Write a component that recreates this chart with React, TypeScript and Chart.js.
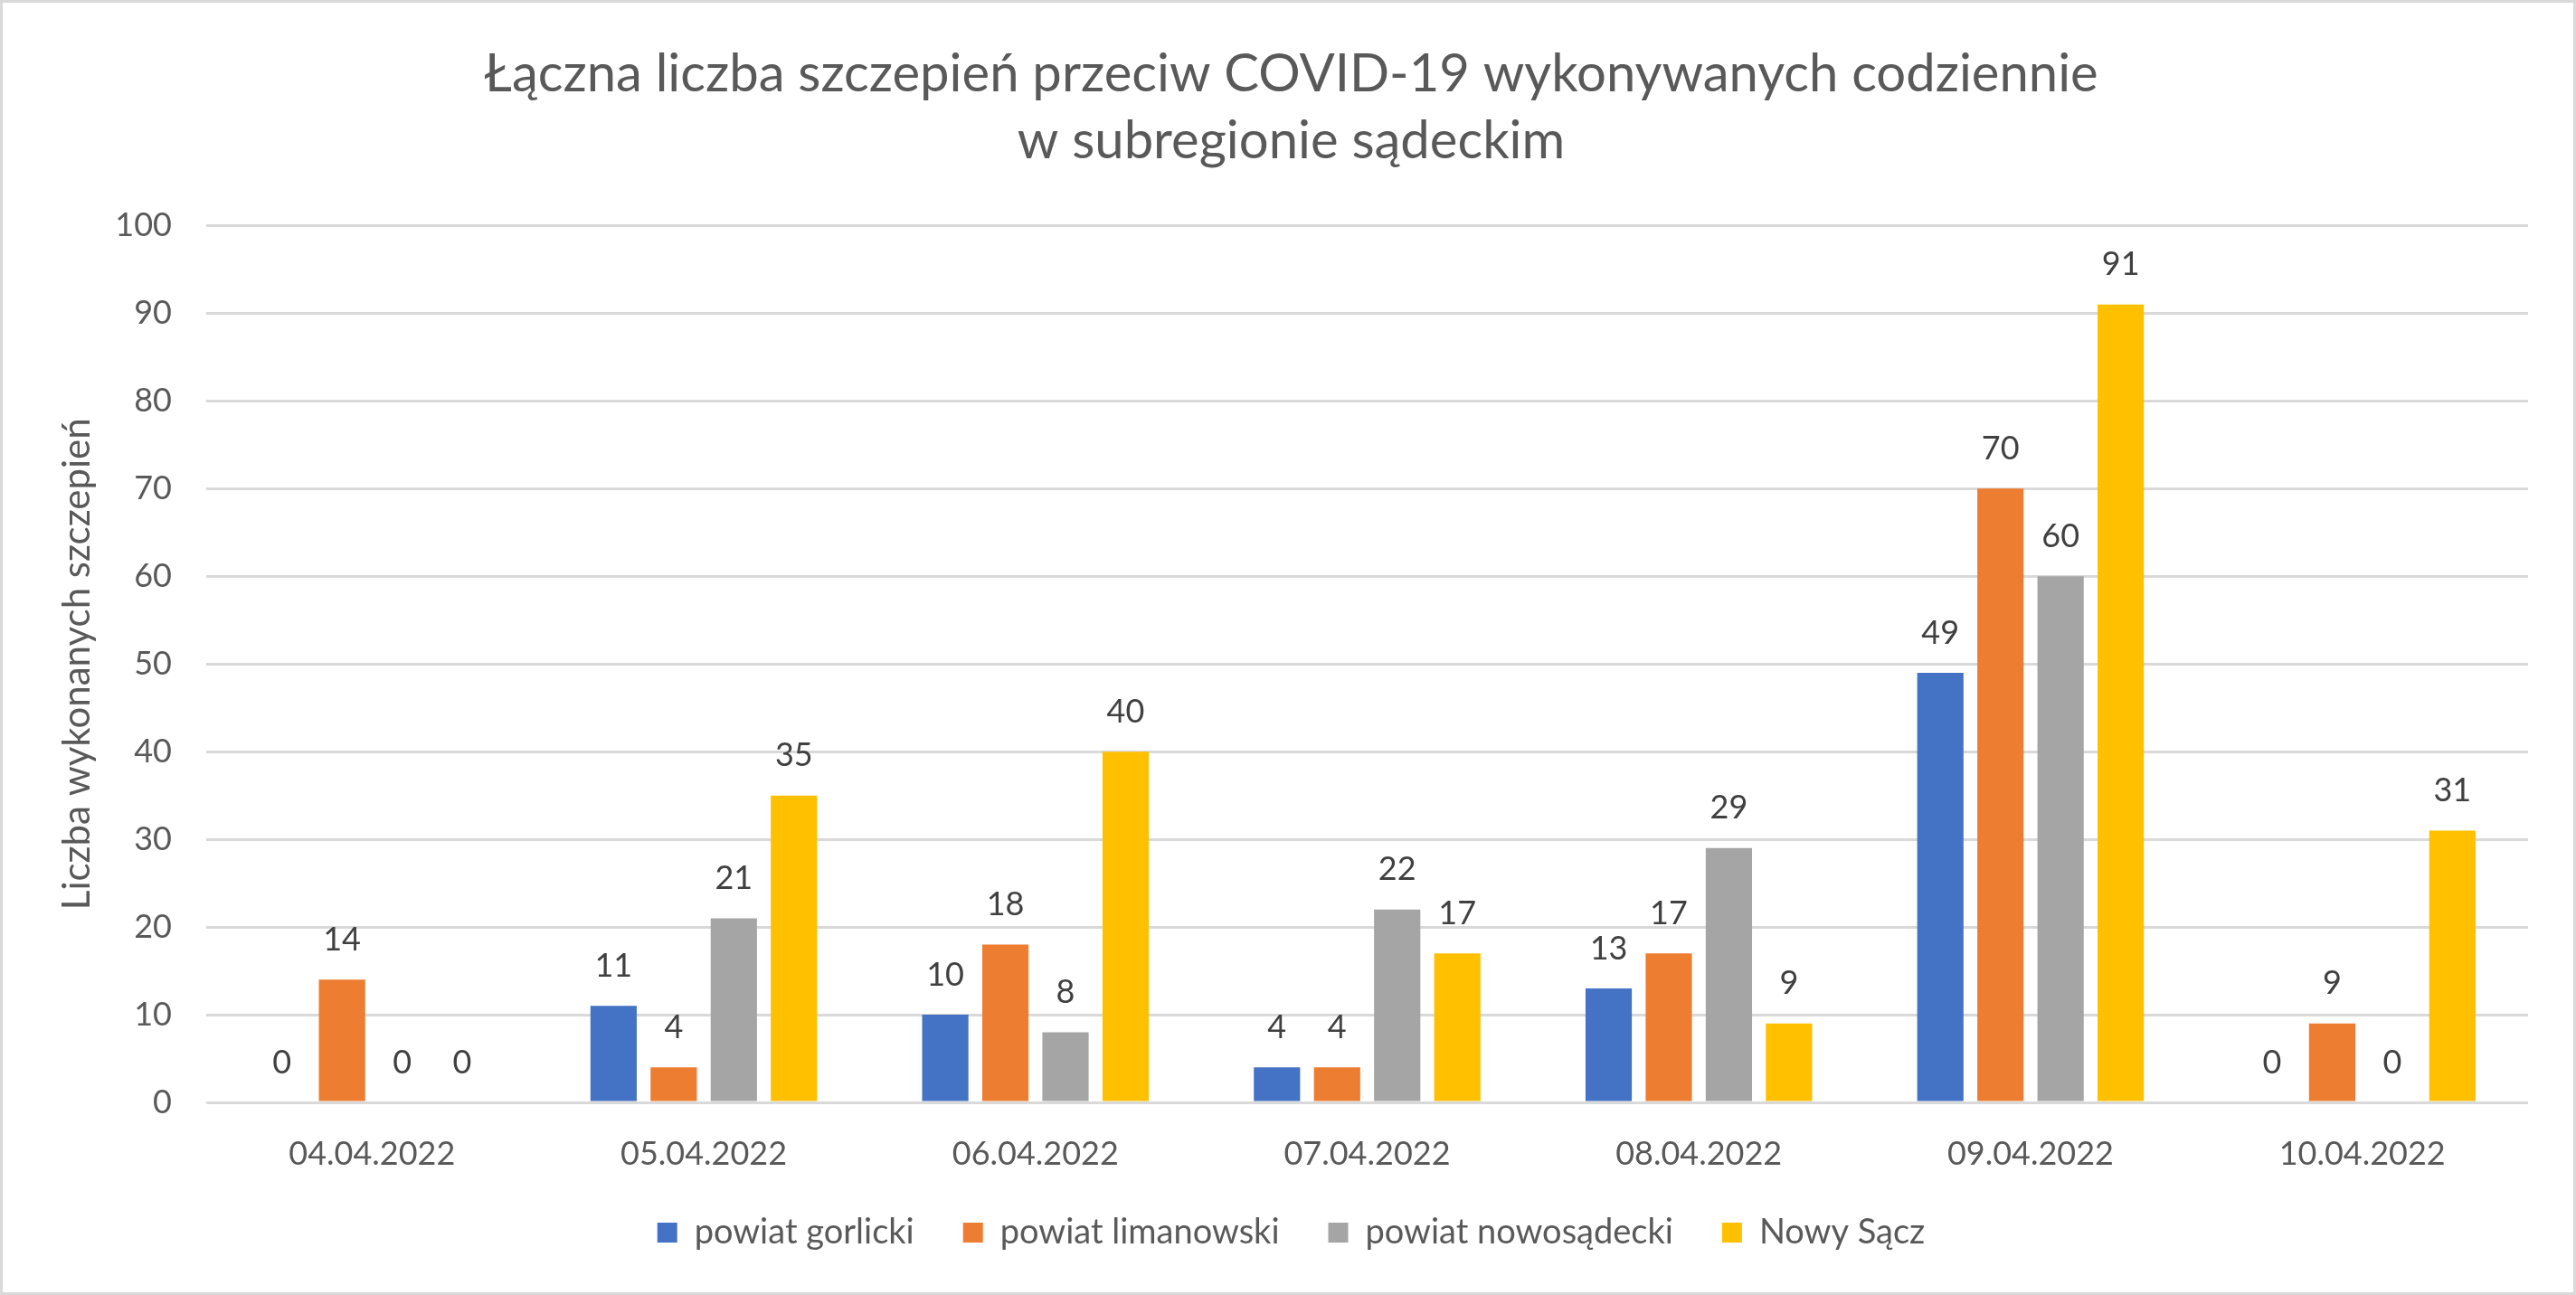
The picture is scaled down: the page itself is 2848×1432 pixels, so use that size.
import React, { useEffect, useRef } from 'react';
import { Chart, registerables } from 'chart.js';

Chart.register(...registerables);

const categories = ['04.04.2022', '05.04.2022', '06.04.2022', '07.04.2022', '08.04.2022', '09.04.2022', '10.04.2022'];
const seriesNames = ['powiat gorlicki', 'powiat limanowski', 'powiat nowosądecki', 'Nowy Sącz'];
const gorlicki = [0, 11, 10, 4, 13, 49, 0];
const limanowski = [14, 4, 18, 4, 17, 70, 9];
const nowosadecki = [0, 21, 8, 22, 29, 60, 0];
const nowySacz = [0, 35, 40, 17, 9, 91, 31];
const seriesColors = ['#4472C4', '#ED7D31', '#A5A5A5', '#FFC000'];
const titleLines = ['Łączna liczba szczepień przeciw COVID-19 wykonywanych codziennie', 'w subregionie sądeckim'];
const yAxisTitle = 'Liczba wykonanych szczepień';
const yMin = 0;
const yMax = 100;
const yStep = 10;

const FONT = 'Lato';
const PAD_LEFT = 57;

const valueLabels = {
  id: 'valueLabels',
  afterDatasetsDraw(chart: any) {
    const ctx = chart.ctx;
    ctx.save();
    ctx.font = `36px ${FONT}`;
    ctx.fillStyle = '#404040';
    ctx.textAlign = 'center';
    ctx.textBaseline = 'middle';
    chart.data.datasets.forEach((ds: any, i: number) => {
      const meta = chart.getDatasetMeta(i);
      meta.data.forEach((el: any, j: number) => {
        ctx.fillText(String(ds.data[j]), el.x, el.y - 44);
      });
    });
    ctx.restore();
  },
};

// let x-axis tick labels extend below the (compact) axis box without being clipped
const unclipXLabels = {
  id: 'unclipXLabels',
  afterLayout(chart: any) {
    const x = chart.scales.x;
    if (x) x.bottom = x.top + 120;
  },
};

export default function App() {
  const ref = useRef<HTMLCanvasElement | null>(null);
  useEffect(() => {
    if (!ref.current) return;
    const allSeries = [gorlicki, limanowski, nowosadecki, nowySacz];
    const chart = new Chart(ref.current, {
      type: 'bar',
      data: {
        labels: categories,
        datasets: allSeries.map((d, i) => ({
          label: seriesNames[i],
          data: d,
          backgroundColor: seriesColors[i],
          borderWidth: 0,
          categoryPercentage: 0.725,
          barPercentage: 0.77,
        })),
      },
      options: {
        responsive: false,
        animation: false,
        events: [],
        layout: { padding: { top: 0, left: PAD_LEFT, right: 50, bottom: 37 } },
        plugins: {
          title: {
            display: true,
            text: titleLines,
            color: '#595959',
            font: { family: FONT, size: 58, weight: 'normal', lineHeight: 74 / 58 },
            padding: { top: 42, bottom: 56.5 },
          },
          legend: {
            position: 'bottom',
            labels: {
              color: '#595959',
              font: { family: FONT, size: 38 },
              boxWidth: 22,
              boxHeight: 22,
              padding: 54,
            },
          },
          tooltip: { enabled: false },
        },
        scales: {
          x: {
            grid: { display: false, drawTicks: false },
            border: { display: false },
            ticks: { color: '#595959', font: { family: FONT, size: 36 }, padding: 36 },
            afterFit: (scale: any) => { scale.height = 71; },
          },
          y: {
            min: yMin,
            max: yMax,
            grid: { color: '#d9d9d9', lineWidth: 3, drawTicks: false },
            border: { display: false },
            ticks: { stepSize: yStep, color: '#595959', font: { family: FONT, size: 36 }, padding: 38 },
            title: {
              display: true,
              text: yAxisTitle,
              color: '#595959',
              font: { family: FONT, size: 42 },
              padding: { top: 0, bottom: 0 },
            },
            afterFit: (scale: any) => { scale.width = 225 - PAD_LEFT; },
          },
        },
      },
      plugins: [valueLabels, unclipXLabels],
    });
    return () => chart.destroy();
  }, []);

  return (
    <div
      style={{
        position: 'fixed',
        left: 0,
        top: 0,
        width: 2848,
        height: 1432,
        boxSizing: 'border-box',
        border: '3px solid #d9d9d9',
        background: '#ffffff',
      }}
    >
      <canvas ref={ref} width={2842} height={1426} style={{ display: 'block' }} />
    </div>
  );
}
